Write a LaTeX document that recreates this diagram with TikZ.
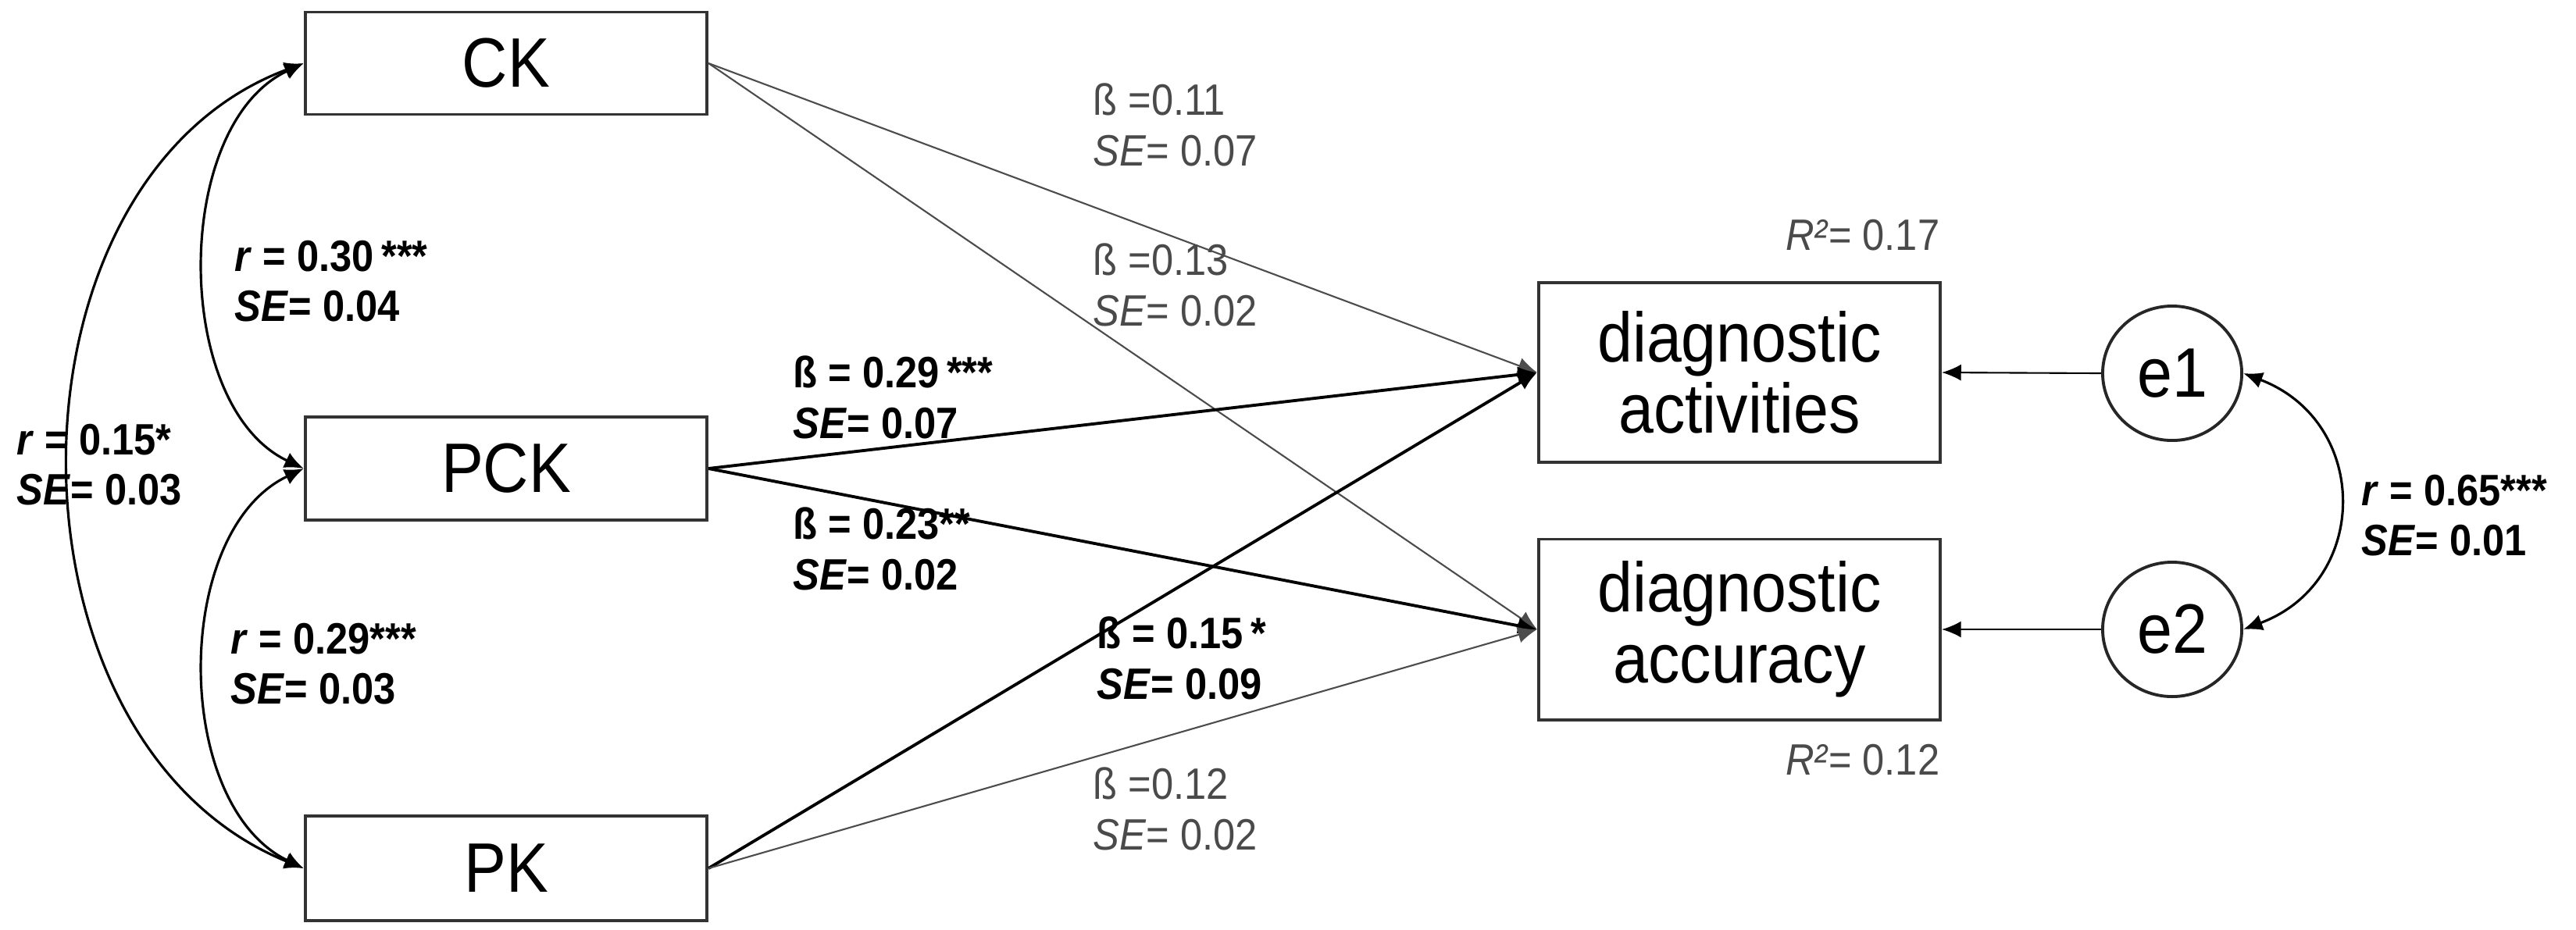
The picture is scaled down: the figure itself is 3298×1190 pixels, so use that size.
\documentclass[tikz,border=0pt]{standalone}
\usepackage{fontspec}
\setmainfont{Liberation Sans}[FakeStretch=0.9]
\usetikzlibrary{arrows.meta,shapes.geometric}
\definecolor{lg}{HTML}{4A4A4A}
\begin{document}
\begin{tikzpicture}[x=0.01cm,y=-0.01cm,
  box/.style={draw=black!80,line width=1.1pt,inner sep=0,font=\fontsize{25.5}{26}\selectfont,align=center,minimum width=5.14cm},
  err/.style={draw=black!85,line width=1.1pt,ellipse,inner sep=0,minimum width=1.78cm,minimum height=1.72cm,font=\fontsize{25.5}{26}\selectfont},
  lab/.style={anchor=north west,inner sep=0,align=left,font=\fontsize{16}{18.4}\selectfont},
  blab/.style={lab,font=\fontsize{16}{18.4}\selectfont\bfseries},
  glab/.style={lab,text=lg},
  tip/.style={-{Latex[length=7pt,width=6pt]}},
  thin/.style={line width=0.6pt,draw=black!70,tip},
  thick/.style={line width=1.1pt,tip},
  cov/.style={line width=0.9pt,{Latex[length=7pt,width=6pt]}-{Latex[length=7pt,width=6pt]}}]
\useasboundingbox (0,0) rectangle (3298,1190);
\node[box,minimum height=1.31cm] (ck) at (648,81) {CK};
\node[box,minimum height=1.32cm] (pck) at (648,600) {PCK};
\node[box,minimum height=1.34cm] (pk) at (648,1112) {PK};
\node[box,minimum height=2.30cm] (act) at (2227,477) {diagnostic\\activities};
\node[box,minimum height=2.31cm] (acc) at (2227,806) {diagnostic\\accuracy};
\node[err] (e1) at (2781,478) {e1};
\node[err] (e2) at (2781,806) {e2};
% paths
\draw[thin] (ck.east) -- (act.west);
\draw[thin] (ck.east) -- (acc.west);
\draw[thick] (pck.east) -- (act.west);
\draw[thick] (pck.east) -- (acc.west);
\draw[thick] (pk.east) -- (act.west);
\draw[thin] (pk.east) -- (acc.west);
\draw[thin,draw=black] (e1.west) -- (act.east);
\draw[thin,draw=black] (e2.west) -- (acc.east);
% covariances
\draw[cov] (ck.west) .. controls (-10,230) and (-10,950) .. (pk.west);
\draw[cov] (ck.west) .. controls (220,160) and (220,520) .. (pck.west);
\draw[cov] (pck.west) .. controls (220,680) and (220,1030) .. (pk.west);
\draw[cov] (e1.east) .. controls (3035,540) and (3035,745) .. (e2.east);
% labels
\node[glab] (l1) at (1399,106) {ß =0.11\\\textit{SE}= 0.07};
\node[glab] (l2) at (1399,311) {ß =0.13\\\textit{SE}= 0.02};
\node[blab] (l3) at (1015,455) {ß = 0.29\,***\\\textit{SE}= 0.07};
\node[blab] (l4) at (1015,649) {ß = 0.23**\\\textit{SE}= 0.02};
\node[blab] (l5) at (1404,789) {ß = 0.15\,*\\\textit{SE}= 0.09};
\node[glab] (l6) at (1399,982) {ß =0.12\\\textit{SE}= 0.02};
\node[blab] (l7) at (300,307) {\textit{r} = 0.30\,***\\\textit{SE}= 0.04};
\node[blab] (l8) at (295,797) {\textit{r} = 0.29***\\\textit{SE}= 0.03};
\node[blab] (l9) at (21,542) {\textit{r} = 0.15*\\\textit{SE}= 0.03};
\node[blab] (l10) at (3023,607) {\textit{r} = 0.65***\\\textit{SE}= 0.01};
\node[lab,anchor=north east,text=lg] (r1) at (2484,280) {\textit{R²}= 0.17};
\node[lab,anchor=north east,text=lg] (r2) at (2484,952) {\textit{R²}= 0.12};
\end{tikzpicture}
\end{document}
